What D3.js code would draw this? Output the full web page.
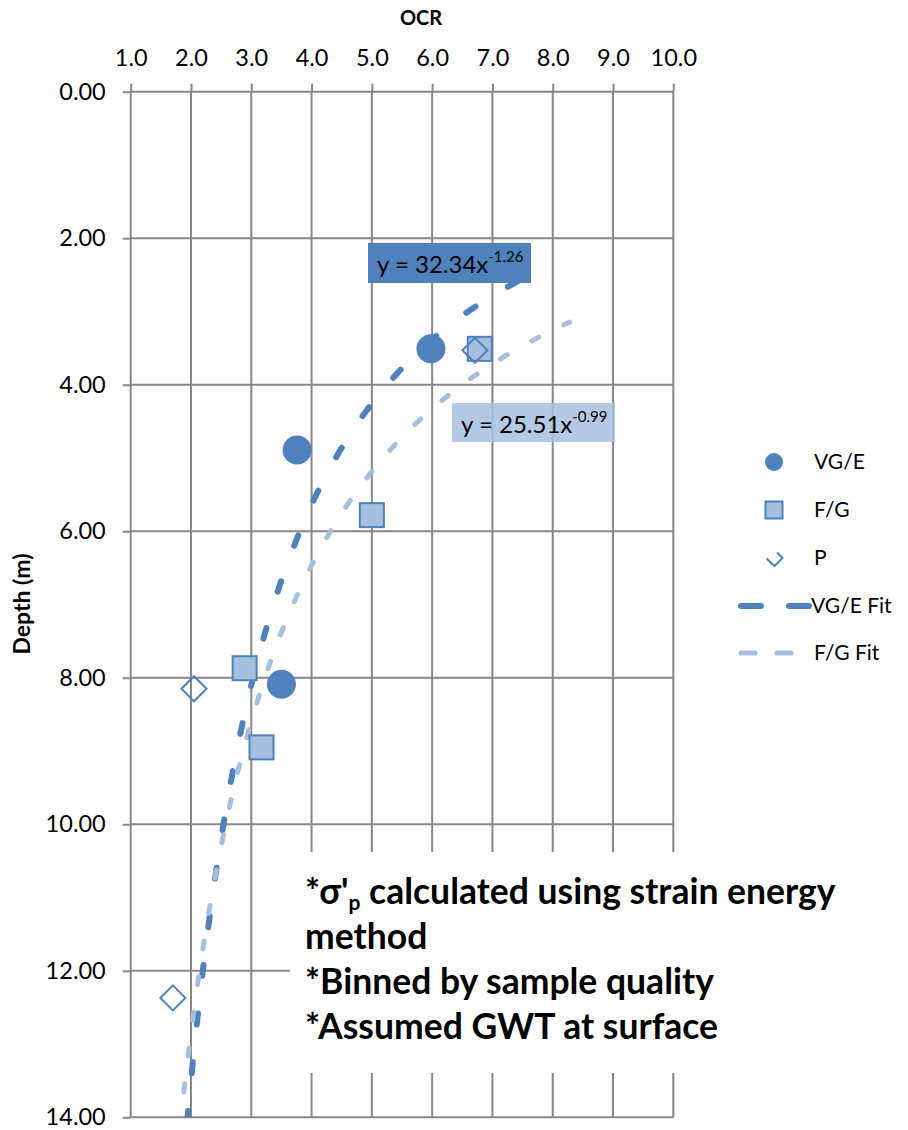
<!DOCTYPE html>
<html>
<head>
<meta charset="utf-8">
<script src="https://cdn.jsdelivr.net/npm/d3@7"></script>
<style>
  body { margin: 0; background: #fff; }
  text { font-family: Lato, "Open Sans", sans-serif; fill: #000; }
</style>
</head>
<body>
<svg id="chart" width="908" height="1130"></svg>
<script>
// measured points (OCR vs depth)
const vgeOcr   = [5.98, 3.76, 3.50];
const vgeDepth = [3.51, 4.89, 8.09];
const fgOcr    = [6.79, 5.00, 2.89, 3.17];
const fgDepth  = [3.51, 5.78, 7.87, 8.95];
const pOcr     = [6.71, 2.05, 1.70];
const pDepth   = [3.53, 8.15, 12.37];

// power trendlines, depth = a * OCR^b
const fitNames = ["VG/E Fit", "F/G Fit"];
const fitA     = [32.34, 25.51];
const fitB     = [-1.26, -0.99];
const fitFrom  = [1.5, 1.5];
const fitTo    = [7.5, 8.29];
const fitLabels = ["32.34", "25.51"];
const fitPowers = ["-1.26", "-0.99"];

const ocrTicks   = [1, 2, 3, 4, 5, 6, 7, 8, 9, 10];
const depthTicks = [0, 2, 4, 6, 8, 10, 12, 14];
const legendNames = ["VG/E", "F/G", "P", "VG/E Fit", "F/G Fit"];

const notes = ["calculated using strain energy", "method", "*Binned by sample quality", "*Assumed GWT at surface"];

const dark  = "#4F81BD";
const light = "#A7BFDE";
const grid  = "#878787";

const svg = d3.select("#chart");
svg.append("rect").attr("width", 908).attr("height", 1130).attr("fill", "#fff");

const x = d3.scaleLinear().domain([1, 10]).range([130.7, 673.3]);
const y = d3.scaleLinear().domain([0, 14]).range([91.7, 1117.3]);

// gridlines
const gridG = svg.append("g").attr("stroke", grid).attr("stroke-width", 2);
gridG.selectAll("line.v").data(ocrTicks).enter().append("line")
    .attr("x1", d => x(d)).attr("x2", d => x(d))
    .attr("y1", y(0)).attr("y2", y(14));
gridG.selectAll("line.h").data(depthTicks).enter().append("line")
    .attr("y1", d => y(d)).attr("y2", d => y(d))
    .attr("x1", x(1)).attr("x2", x(10));

// axes
const topAxis = svg.append("g")
    .attr("transform", "translate(0," + y(0) + ")")
    .call(d3.axisTop(x).tickValues(ocrTicks).tickSize(8).tickPadding(18).tickFormat(d3.format(".1f")));
const leftAxis = svg.append("g")
    .attr("transform", "translate(" + x(1) + ",0)")
    .call(d3.axisLeft(y).tickValues(depthTicks).tickSize(8).tickPadding(17).tickFormat(d3.format(".2f")));

[topAxis, leftAxis].forEach(a => {
    a.select(".domain").remove();
    a.selectAll(".tick line").attr("stroke", grid).attr("stroke-width", 2);
    a.selectAll(".tick text").attr("font-size", 23.5).attr("font-family", "Lato").attr("fill", "#000");
});

svg.append("text").attr("x", 421).attr("y", 25).attr("text-anchor", "middle")
    .attr("font-size", 20).attr("font-weight", "bold").text("OCR");
svg.append("text").attr("transform", "translate(30,604) rotate(-90)").attr("text-anchor", "middle")
    .attr("font-size", 23).attr("font-weight", "bold").text("Depth (m)");

// white box behind the notes
svg.append("rect").attr("x", 290).attr("y", 852).attr("width", 618).attr("height", 221).attr("fill", "#fff");

// trendlines
svg.append("clipPath").attr("id", "plotClip").append("rect")
    .attr("x", x(1)).attr("y", y(0)).attr("width", x(10) - x(1)).attr("height", y(14) - y(0));

const fitColor = [dark, light];
const fitWidth = [6, 5];
const fitDash  = ["11 38", "8 28"];
const line = d3.line().x(d => x(d[0])).y(d => y(d[1]));

fitNames.forEach((name, i) => {
    const pts = d3.range(fitFrom[i], fitTo[i] + 0.001, 0.02).map(o => [o, fitA[i] * Math.pow(o, fitB[i])]);
    svg.append("path")
        .attr("clip-path", "url(#plotClip)")
        .attr("d", line(pts))
        .attr("fill", "none")
        .attr("stroke", fitColor[i])
        .attr("stroke-width", fitWidth[i])
        .attr("stroke-linecap", "round")
        .attr("stroke-dasharray", fitDash[i]);
});

// markers
const diamond = (cx, cy, r) => "M" + (cx - r) + "," + cy + "L" + cx + "," + (cy - r) + "L" + (cx + r) + "," + cy + "L" + cx + "," + (cy + r) + "Z";

svg.selectAll("circle.vge").data(vgeOcr).enter().append("circle")
    .attr("cx", d => x(d)).attr("cy", (d, i) => y(vgeDepth[i])).attr("r", 14.5)
    .attr("fill", dark);

svg.selectAll("rect.fg").data(fgOcr).enter().append("rect")
    .attr("x", d => x(d) - 12).attr("y", (d, i) => y(fgDepth[i]) - 12)
    .attr("width", 24).attr("height", 24)
    .attr("fill", light).attr("stroke", dark).attr("stroke-width", 2);

svg.selectAll("path.p").data(pOcr).enter().append("path")
    .attr("d", (d, i) => diamond(x(d), y(pDepth[i]), 12.5))
    .attr("fill", "none").attr("stroke", dark).attr("stroke-width", 2);

// equation labels
const labelBox = [[368, 243, 163, 40], [452, 403, 163, 39]];
const labelFill = [dark, light];
const labelOpacity = [1, 0.85];
fitNames.forEach((name, i) => {
    const b = labelBox[i];
    svg.append("rect").attr("x", b[0]).attr("y", b[1]).attr("width", b[2]).attr("height", b[3])
        .attr("fill", labelFill[i]).attr("fill-opacity", labelOpacity[i]);
    const t = svg.append("text").attr("x", b[0] + 9).attr("y", b[1] + 30).attr("font-size", 24);
    t.append("tspan").text("y = " + fitLabels[i] + "x");
    t.append("tspan").attr("font-size", 15).attr("dy", -11).text(fitPowers[i]);
});

// legend
const legendY = [462, 510, 558, 606, 653];
const lg = svg.append("g");
lg.append("circle").attr("cx", 774).attr("cy", legendY[0]).attr("r", 9).attr("fill", dark);
lg.append("rect").attr("x", 765.5).attr("y", legendY[1] - 8.5).attr("width", 17).attr("height", 17)
    .attr("fill", light).attr("stroke", dark).attr("stroke-width", 2);
lg.append("path").attr("d", "M766.5," + (legendY[2] + 0.5) + "l8,7.5l8,-8l-5.5,-5.5")
    .attr("fill", "none").attr("stroke", dark).attr("stroke-width", 2);
lg.append("line").attr("x1", 741).attr("x2", 809).attr("y1", legendY[3]).attr("y2", legendY[3])
    .attr("stroke", dark).attr("stroke-width", 6).attr("stroke-linecap", "round").attr("stroke-dasharray", "20 28");
lg.append("line").attr("x1", 741).attr("x2", 792).attr("y1", legendY[4]).attr("y2", legendY[4])
    .attr("stroke", light).attr("stroke-width", 5).attr("stroke-linecap", "round").attr("stroke-dasharray", "14 22");
lg.selectAll("text").data(legendNames).enter().append("text")
    .attr("x", (d, i) => i === 3 ? 811 : 814)
    .attr("y", (d, i) => legendY[i] + 7)
    .attr("font-size", 21)
    .text(d => d);

// notes
const noteY = [904, 949, 994, 1039];
const nt = svg.append("g").attr("font-size", 35.5).attr("font-weight", "bold");
const first = nt.append("text").attr("x", 305).attr("y", noteY[0]);
first.append("tspan").text("*\u03C3'");
first.append("tspan").attr("font-size", 21).attr("dy", 6).text("p");
first.append("tspan").attr("dy", -6).text(" " + notes[0]);
notes.slice(1).forEach((s, i) => {
    nt.append("text").attr("x", 305).attr("y", noteY[i + 1]).text(s);
});
</script>
</body>
</html>
